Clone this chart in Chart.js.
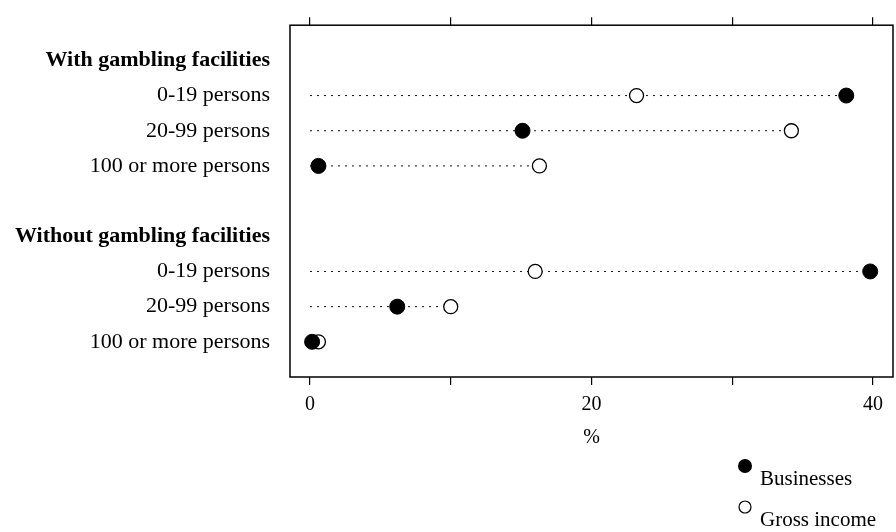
<!DOCTYPE html>
<html>
<head>
<meta charset="utf-8">
<script src="https://cdn.jsdelivr.net/npm/chart.js@4/dist/chart.umd.min.js"></script>
<style>
  html, body { margin: 0; padding: 0; background: #fff; }
  #wrap { width: 896px; height: 532px; position: relative; }
</style>
</head>
<body>
<div id="wrap"><canvas id="dotplot"></canvas></div>
<script>
// Row labels, top to bottom (blank slot between the two groups)
const rowLabels = [
  "With gambling facilities",
  "0-19 persons",
  "20-99 persons",
  "100 or more persons",
  "",
  "Without gambling facilities",
  "0-19 persons",
  "20-99 persons",
  "100 or more persons",
];
const headerRows = [0, 5];

// Which slot each data row sits in
const rowSlots = [1, 2, 3, 6, 7, 8];
const businesses = [38.1, 15.1, 0.6, 39.8, 6.2, 0.15];
const grossIncome = [23.2, 34.2, 16.3, 16.0, 10.0, 0.6];

const xTicks = [0, 10, 20, 30, 40];
const xLabelled = [0, 20, 40];

const SERIF = '"Liberation Serif", "Times New Roman", serif';

// dotted guide lines from 0 to the larger of the two values
const guideSets = rowSlots.map((slot, i) => ({
  type: "line",
  data: [
    { x: 0, y: slot },
    { x: Math.max(businesses[i], grossIncome[i]), y: slot },
  ],
  borderColor: "#111",
  borderWidth: 1,
  borderDash: [2, 5],
  pointRadius: 0,
  order: 3,
}));

// box round the plot area + legend below it
const frameAndLegend = {
  id: "frameAndLegend",
  afterDatasetsDraw(chart) {
    const { ctx, chartArea: a } = chart;
    ctx.save();
    ctx.strokeStyle = "#000";
    ctx.lineWidth = 1.5;
    ctx.strokeRect(a.left, a.top, a.right - a.left, a.bottom - a.top);
    ctx.restore();
  },
  afterDraw(chart) {
    const ctx = chart.ctx;
    ctx.save();
    ctx.font = "21px " + SERIF;
    ctx.fillStyle = "#000";
    ctx.textBaseline = "middle";
    // Businesses
    ctx.beginPath();
    ctx.arc(745, 466, 7, 0, Math.PI * 2);
    ctx.fill();
    ctx.fillText("Businesses", 760, 479);
    // Gross income
    ctx.beginPath();
    ctx.arc(745, 507, 6, 0, Math.PI * 2);
    ctx.lineWidth = 1.2;
    ctx.strokeStyle = "#000";
    ctx.stroke();
    ctx.fillText("Gross income", 760, 520);
    ctx.restore();
  },
};

const ctx = document.querySelector("#dotplot").getContext("2d");

const chart = new Chart(ctx, {
  type: "scatter",
  data: {
    datasets: [
      ...guideSets,
      {
        label: "Businesses",
        data: rowSlots.map((slot, i) => ({ x: businesses[i], y: slot })),
        pointRadius: 7.5,
        pointBackgroundColor: "#000",
        pointBorderColor: "#000",
        pointBorderWidth: 1,
        order: 1,
      },
      {
        label: "Gross income",
        data: rowSlots.map((slot, i) => ({ x: grossIncome[i], y: slot })),
        pointRadius: 7,
        pointBackgroundColor: "#fff",
        pointBorderColor: "#000",
        pointBorderWidth: 1.3,
        order: 2,
      },
    ],
  },
  options: {
    responsive: true,
    maintainAspectRatio: false,
    animation: false,
    layout: {
      autoPadding: false,
      padding: { left: 0, top: -8, right: 3, bottom: 80 },
    },
    scales: {
      x: {
        type: "linear",
        position: "bottom",
        min: -1.42,
        max: 41.42,
        afterBuildTicks: (s) => {
          s.ticks = xTicks.map((v) => ({ value: v }));
        },
        afterFit: (s) => {
          s.height = 75;
        },
        grid: {
          drawOnChartArea: false,
          drawTicks: true,
          tickLength: 8,
          color: "#000",
          lineWidth: 1.2,
        },
        border: { display: false },
        ticks: {
          padding: 8,
          color: "#000",
          font: { family: SERIF, size: 20 },
          callback: (v) => (xLabelled.includes(v) ? String(v) : ""),
        },
        title: {
          display: true,
          text: "%",
          color: "#000",
          font: { family: SERIF, size: 20 },
          padding: { top: 0, bottom: 2 },
        },
      },
      xTop: {
        type: "linear",
        position: "top",
        min: -1.42,
        max: 41.42,
        afterBuildTicks: (s) => {
          s.ticks = xTicks.map((v) => ({ value: v }));
        },
        afterFit: (s) => {
          s.height = 9;
        },
        grid: {
          drawOnChartArea: false,
          drawTicks: true,
          tickLength: 8,
          color: "#000",
          lineWidth: 1.2,
        },
        border: { display: false },
        ticks: { display: true, callback: () => "" },
      },
      y: {
        type: "linear",
        min: -1,
        max: 9,
        reverse: true,
        afterBuildTicks: (s) => {
          s.ticks = rowLabels.map((_, i) => ({ value: i }));
        },
        afterFit: (s) => {
          s.width = 290;
        },
        grid: { display: false },
        border: { display: false },
        ticks: {
          padding: 12,
          color: "#000",
          font: (c) => ({
            family: SERIF,
            size: 22,
            weight: headerRows.includes(c.index) ? "bold" : "normal",
          }),
          callback: (v, i) => rowLabels[i],
        },
      },
    },
    plugins: {
      legend: { display: false },
      tooltip: { enabled: false },
    },
  },
  plugins: [frameAndLegend],
});
</script>
</body>
</html>
